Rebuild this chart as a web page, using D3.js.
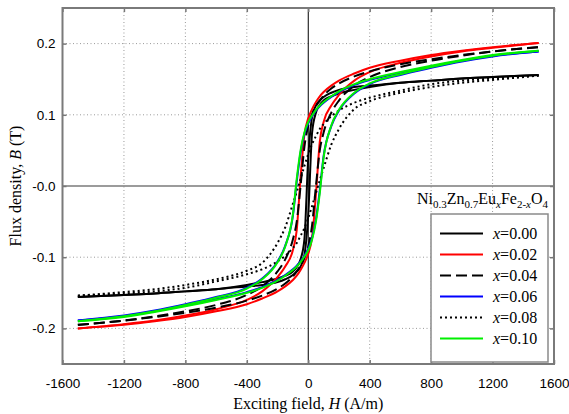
<!DOCTYPE html>
<html>
<head>
<meta charset="utf-8">
<script src="https://cdn.jsdelivr.net/npm/d3@7"></script>
<style>
  body { margin: 0; background: #fff; }
  .tick text { font-family: "Liberation Sans", Arial, sans-serif; font-size: 13.5px; fill: #000; }
  .tick line { stroke: #777; stroke-width: 1.5; }
  .title { font-family: "Liberation Serif", "Times New Roman", serif; font-size: 16px; fill: #000; }
</style>
</head>
<body>
<div id="chart"></div>
<script>
// Exciting field H (A/m) at which the loop branches were read
const fieldH = [-1500, -1200, -1000, -800, -600, -400, -300, -200, -150, -100, -75, -50, -25,
  0, 25, 50, 75, 100, 150, 200, 300, 400, 600, 800, 1000, 1200, 1500];

// Flux density B (T), descending branch (coming from +Hmax)
const descX000 = [-0.156, -0.153, -0.151, -0.148, -0.145, -0.139, -0.135, -0.130, -0.126, -0.120, -0.114, -0.103, -0.075,
  0.040, 0.097, 0.113, 0.120, 0.125, 0.131, 0.135, 0.139, 0.141, 0.145, 0.148, 0.151, 0.153, 0.156];
const descX002 = [-0.200, -0.194, -0.189, -0.182, -0.173, -0.160, -0.148, -0.128, -0.113, -0.090, -0.062, 0.012, 0.072,
  0.095, 0.108, 0.118, 0.126, 0.132, 0.141, 0.148, 0.158, 0.166, 0.176, 0.184, 0.190, 0.195, 0.201];
const descX004 = [-0.195, -0.189, -0.183, -0.176, -0.167, -0.153, -0.141, -0.120, -0.103, -0.075, -0.050, 0.000, 0.055,
  0.085, 0.101, 0.112, 0.120, 0.127, 0.137, 0.144, 0.154, 0.161, 0.171, 0.178, 0.184, 0.189, 0.195];
const descX006 = [-0.189, -0.182, -0.175, -0.166, -0.156, -0.143, -0.130, -0.106, -0.084, -0.042, 0.006, 0.047, 0.073,
  0.088, 0.098, 0.106, 0.112, 0.117, 0.125, 0.132, 0.142, 0.149, 0.159, 0.168, 0.176, 0.183, 0.189];
const descX008 = [-0.154, -0.149, -0.145, -0.139, -0.131, -0.119, -0.108, -0.080, -0.058, -0.025, -0.008, 0.010, 0.028,
  0.045, 0.059, 0.070, 0.080, 0.087, 0.098, 0.106, 0.117, 0.124, 0.134, 0.143, 0.148, 0.151, 0.155];
const descX010 = [-0.190, -0.183, -0.176, -0.167, -0.157, -0.144, -0.131, -0.107, -0.085, -0.040, 0.010, 0.050, 0.075,
  0.090, 0.099, 0.107, 0.113, 0.118, 0.126, 0.133, 0.143, 0.150, 0.160, 0.169, 0.177, 0.184, 0.190];

// Flux density B (T), ascending branch (coming from -Hmax)
const ascX000 = [-0.156, -0.153, -0.151, -0.148, -0.145, -0.141, -0.139, -0.135, -0.131, -0.125, -0.120, -0.113, -0.097,
  -0.040, 0.075, 0.103, 0.114, 0.120, 0.126, 0.130, 0.135, 0.139, 0.145, 0.148, 0.151, 0.153, 0.156];
const ascX002 = [-0.200, -0.195, -0.190, -0.184, -0.176, -0.166, -0.158, -0.148, -0.141, -0.132, -0.126, -0.118, -0.108,
  -0.095, -0.072, -0.012, 0.062, 0.090, 0.113, 0.128, 0.148, 0.160, 0.173, 0.182, 0.189, 0.194, 0.201];
const ascX004 = [-0.195, -0.189, -0.184, -0.178, -0.171, -0.161, -0.154, -0.144, -0.137, -0.127, -0.120, -0.112, -0.101,
  -0.085, -0.055, 0.000, 0.050, 0.075, 0.103, 0.120, 0.141, 0.153, 0.167, 0.176, 0.183, 0.189, 0.195];
const ascX006 = [-0.189, -0.183, -0.176, -0.168, -0.159, -0.149, -0.142, -0.132, -0.125, -0.117, -0.112, -0.106, -0.098,
  -0.088, -0.073, -0.047, -0.006, 0.042, 0.084, 0.106, 0.130, 0.143, 0.156, 0.166, 0.175, 0.182, 0.189];
const ascX008 = [-0.154, -0.151, -0.148, -0.143, -0.134, -0.124, -0.117, -0.106, -0.098, -0.087, -0.080, -0.070, -0.059,
  -0.045, -0.028, -0.010, 0.008, 0.025, 0.058, 0.080, 0.108, 0.119, 0.131, 0.139, 0.145, 0.149, 0.155];
const ascX010 = [-0.190, -0.184, -0.177, -0.169, -0.160, -0.150, -0.143, -0.133, -0.126, -0.118, -0.113, -0.107, -0.099,
  -0.090, -0.075, -0.050, -0.010, 0.040, 0.085, 0.107, 0.131, 0.144, 0.157, 0.167, 0.176, 0.183, 0.190];

const seriesNames = ['0.00', '0.02', '0.04', '0.06', '0.08', '0.10'];
const seriesDesc = [descX000, descX002, descX004, descX006, descX008, descX010];
const seriesAsc = [ascX000, ascX002, ascX004, ascX006, ascX008, ascX010];
const seriesColors = ['#000000', '#ff0000', '#000000', '#0000ff', '#000000', '#00f000'];
const seriesDash = [null, null, '11,5', null, '2,3', null];

const xTicks = [-1600, -1200, -800, -400, 0, 400, 800, 1200, 1600];
const xTickLabels = ['-1600', '-1200', '-800', '-400', '0', '400', '800', '1200', '1600'];
const yTicks = [-0.2, -0.1, 0, 0.1, 0.2];
const yTickLabels = ['-0.2', '-0.1', '-0.0', '0.1', '0.2'];

const width = 569, height = 414;
const plot = { left: 62.5, right: 554, top: 8, bottom: 364 };

const svg = d3.select('#chart').append('svg')
    .attr('width', width)
    .attr('height', height);

const x = d3.scaleLinear().domain([-1600, 1600]).range([plot.left, plot.right]);
const y = d3.scaleLinear().domain([-0.25, 0.25]).range([plot.bottom, plot.top]);

// Grid
const grid = svg.append('g').attr('stroke', '#9a9a9a').attr('stroke-width', 1).attr('stroke-dasharray', '1,2.5');
grid.selectAll('.gx')
    .data(xTicks.filter(d => d !== 0 && Math.abs(d) !== 1600))
    .join('line')
    .attr('x1', d => x(d)).attr('x2', d => x(d))
    .attr('y1', plot.top).attr('y2', plot.bottom);
grid.selectAll('.gy')
    .data(yTicks.filter(d => d !== 0))
    .join('line')
    .attr('x1', plot.left).attr('x2', plot.right)
    .attr('y1', d => y(d)).attr('y2', d => y(d));

// Zero lines
svg.append('line')
    .attr('x1', plot.left).attr('x2', plot.right)
    .attr('y1', y(0)).attr('y2', y(0))
    .attr('stroke', '#7a7a7a').attr('stroke-width', 1.5);
svg.append('line')
    .attr('x1', x(0)).attr('x2', x(0))
    .attr('y1', plot.top).attr('y2', plot.bottom)
    .attr('stroke', '#000').attr('stroke-width', 1);

// Hysteresis loops
const line = d3.line()
    .x(d => x(d[0]))
    .y(d => y(d[1]))
    .curve(d3.curveMonotoneX);

const curves = svg.append('g');
seriesNames.forEach((name, i) => {
    [seriesDesc[i], seriesAsc[i]].forEach(branch => {
        curves.append('path')
            .attr('d', line(fieldH.map((h, k) => [h, branch[k]])))
            .attr('fill', 'none')
            .attr('stroke', seriesColors[i])
            .attr('stroke-width', 2)
            .attr('stroke-dasharray', seriesDash[i]);
    });
});

// Axes with inward ticks
const axB = svg.append('g').attr('transform', `translate(0,${plot.bottom})`)
    .call(d3.axisBottom(x).tickValues(xTicks).tickFormat((d, i) => xTickLabels[i])
        .tickSizeInner(-4).tickSizeOuter(0).tickPadding(14));
const axL = svg.append('g').attr('transform', `translate(${plot.left},0)`)
    .call(d3.axisLeft(y).tickValues(yTicks).tickFormat((d, i) => yTickLabels[i])
        .tickSizeInner(-4).tickSizeOuter(0).tickPadding(7));
const axT = svg.append('g').attr('transform', `translate(0,${plot.top})`)
    .call(d3.axisTop(x).tickValues(xTicks).tickFormat('').tickSizeInner(-4).tickSizeOuter(0));
const axR = svg.append('g').attr('transform', `translate(${plot.right},0)`)
    .call(d3.axisRight(y).tickValues(yTicks).tickFormat('').tickSizeInner(-4).tickSizeOuter(0));
[axB, axL, axT, axR].forEach(a => a.select('.domain').remove());

// Frame
svg.append('rect')
    .attr('x', plot.left).attr('y', plot.top)
    .attr('width', plot.right - plot.left).attr('height', plot.bottom - plot.top)
    .attr('fill', 'none').attr('stroke', '#7a7a7a').attr('stroke-width', 2);

// Axis titles
const xt = svg.append('text').attr('class', 'title')
    .attr('x', x(0)).attr('y', 409).attr('text-anchor', 'middle');
xt.append('tspan').text('Exciting field, ');
xt.append('tspan').attr('font-style', 'italic').text('H');
xt.append('tspan').text(' (A/m)');

const yt = svg.append('text').attr('class', 'title')
    .attr('transform', `translate(21,${y(0)}) rotate(-90)`).attr('text-anchor', 'middle');
yt.append('tspan').text('Flux density, ');
yt.append('tspan').attr('font-style', 'italic').text('B');
yt.append('tspan').text(' (T)');

// Legend title: Ni0.3Zn0.7EuxFe2-xO4
const formula = [
    { t: 'Ni' }, { t: '0.3', sub: true }, { t: 'Zn' }, { t: '0.7', sub: true },
    { t: 'Eu' }, { t: 'x', sub: true, it: true }, { t: 'Fe' }, { t: '2-', sub: true },
    { t: 'x', sub: true, it: true }, { t: 'O' }, { t: '4', sub: true }
];
const ft = svg.append('text').attr('class', 'title')
    .attr('x', 548).attr('y', 204).attr('text-anchor', 'end');
let lvl = 0;
formula.forEach(p => {
    const target = p.sub ? 4 : 0;
    const ts = ft.append('tspan').attr('dy', target - lvl).text(p.t);
    if (p.sub) ts.attr('font-size', '11px');
    if (p.it) ts.attr('font-style', 'italic');
    lvl = target;
});

// Legend box
const legend = svg.append('g');
legend.append('rect')
    .attr('x', 431).attr('y', 214).attr('width', 117).attr('height', 148)
    .attr('fill', '#fff').attr('stroke', '#8a8a8a').attr('stroke-width', 1.5);
seriesNames.forEach((name, i) => {
    const ry = 233.5 + i * 21;
    legend.append('line')
        .attr('x1', 440).attr('x2', 483).attr('y1', ry).attr('y2', ry)
        .attr('stroke', seriesColors[i]).attr('stroke-width', 2)
        .attr('stroke-dasharray', seriesDash[i]);
    const lt = legend.append('text').attr('class', 'title').attr('x', 493).attr('y', ry + 5);
    lt.append('tspan').attr('font-style', 'italic').text('x');
    lt.append('tspan').text('=' + name);
});
</script>
</body>
</html>
